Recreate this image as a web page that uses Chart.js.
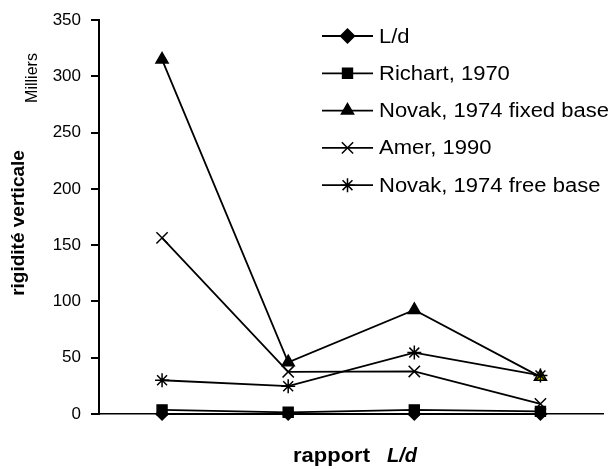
<!DOCTYPE html>
<html>
<head>
<meta charset="utf-8">
<script src="https://cdn.jsdelivr.net/npm/chart.js@4/dist/chart.umd.min.js"></script>
<style>
  html, body { margin: 0; padding: 0; background: #fff; }
  #wrap { width: 613px; height: 469px; position: relative; }
</style>
</head>
<body>
<div id="wrap"><canvas id="myChart" width="613" height="469"></canvas></div>
<script>
// values in thousands (Milliers)
var categories = ['1', '2', '3', '4'];
var ldValues = [0, 0, 0, 0];
var richart1970 = [3.7, 1.5, 3.7, 2.3];
var novakFixed = [315, 46, 92.5, 33];
var amer1990 = [156.5, 37.5, 37.8, 9];
var novakFree = [30, 24.7, 54.6, 34.3];

var seriesNames = ['L/d', 'Richart, 1970', 'Novak, 1974 fixed base', 'Amer, 1990', 'Novak, 1974 free base'];

var FONT = '"Liberation Sans", Arial, sans-serif';

function serie(name, values, style, radius, order) {
    return {
        label: name,
        data: values,
        borderColor: '#000',
        backgroundColor: '#000',
        borderWidth: 1.8,
        pointStyle: style,
        pointRadius: radius,
        pointHoverRadius: radius,
        pointBorderWidth: 1.5,
        pointBorderColor: '#000',
        pointBackgroundColor: '#000',
        tension: 0,
        clip: false,
        order: order
    };
}

var datasets = [
    serie(seriesNames[0], ldValues, 'rectRot', 6, 5),
    serie(seriesNames[1], richart1970, 'rect', 7, 4),
    serie(seriesNames[2], novakFixed, 'triangle', 7, 3),
    serie(seriesNames[3], amer1990, 'crossRot', 8, 2),
    serie(seriesNames[4], novakFree, 'star', 7, 1)
];
// last triangle looks yellow-filled in the original
datasets[2].pointBackgroundColor = ['#000', '#000', '#000', '#d8d800'];

// text in the original is a bit stretched sideways
function wideText(ctx, txt, x, y, sx) {
    ctx.save();
    ctx.translate(x, y);
    ctx.scale(sx, 1);
    ctx.fillText(txt, 0, 0);
    ctx.restore();
}

// legend drawn by hand: line with marker in the middle
var legendPlugin = {
    id: 'lineLegend',
    afterDraw: function(chart) {
        var ctx = chart.ctx;
        chart.data.datasets.forEach(function(ds, i) {
            var y = 36 + i * 37.3;
            ctx.save();
            ctx.strokeStyle = '#000';
            ctx.fillStyle = '#000';
            ctx.lineWidth = 1.8;
            ctx.beginPath();
            ctx.moveTo(322, y);
            ctx.lineTo(373, y);
            ctx.stroke();
            ctx.lineWidth = 1.5;
            Chart.helpers.drawPoint(ctx, {
                pointStyle: ds.pointStyle,
                radius: ds.pointStyle == 'rectRot' ? 7 : ds.pointRadius,
                rotation: 0,
                borderWidth: 1.5
            }, 347.5, y);
            ctx.font = '20px ' + FONT;
            ctx.textBaseline = 'middle';
            ctx.textAlign = 'left';
            wideText(ctx, ds.label, 379, y + 1, 1.1);
            ctx.restore();
        });
    }
};

// axis titles (x title mixes bold and bold italic)
var titlePlugin = {
    id: 'titles',
    afterDraw: function(chart) {
        var ctx = chart.ctx;
        ctx.save();
        ctx.fillStyle = '#000';
        ctx.textBaseline = 'middle';
        ctx.textAlign = 'left';

        ctx.font = 'bold 20px ' + FONT;
        wideText(ctx, 'rapport', 293, 456, 1.1);
        ctx.font = 'italic bold 20px ' + FONT;
        wideText(ctx, 'L/d', 387, 456, 1.0);

        ctx.save();
        ctx.translate(19, 223);
        ctx.rotate(-Math.PI / 2);
        ctx.textAlign = 'center';
        ctx.font = 'bold 19px ' + FONT;
        ctx.fillText('rigidité verticale', 0, 0);
        ctx.restore();

        ctx.save();
        ctx.translate(33, 78);
        ctx.rotate(-Math.PI / 2);
        ctx.textAlign = 'center';
        ctx.font = '16px ' + FONT;
        ctx.fillText('Milliers', 0, 0);
        ctx.restore();

        ctx.restore();
    }
};

var ctx = document.getElementById('myChart').getContext('2d');
var myChart = new Chart(ctx, {
    type: 'line',
    data: {
        labels: categories,
        datasets: datasets
    },
    options: {
        responsive: false,
        animation: false,
        events: [],
        layout: { padding: { top: 13, right: 4, left: 0, bottom: 0 } },
        plugins: {
            legend: { display: false },
            tooltip: { enabled: false }
        },
        scales: {
            x: {
                type: 'category',
                offset: true,
                grid: { display: false, drawTicks: false },
                border: { display: true, color: '#000', width: 1.5 },
                ticks: { display: false },
                afterFit: function(s) { s.height = 55; }
            },
            y: {
                min: 0,
                max: 350,
                ticks: {
                    stepSize: 50,
                    color: '#000',
                    padding: 10,
                    font: { family: FONT, size: 17 }
                },
                grid: {
                    drawOnChartArea: false,
                    drawTicks: true,
                    tickLength: 8,
                    color: '#000',
                    lineWidth: 2
                },
                border: { display: true, color: '#000', width: 2 },
                afterFit: function(s) { s.width = 99; }
            }
        }
    },
    plugins: [legendPlugin, titlePlugin]
});
</script>
</body>
</html>
